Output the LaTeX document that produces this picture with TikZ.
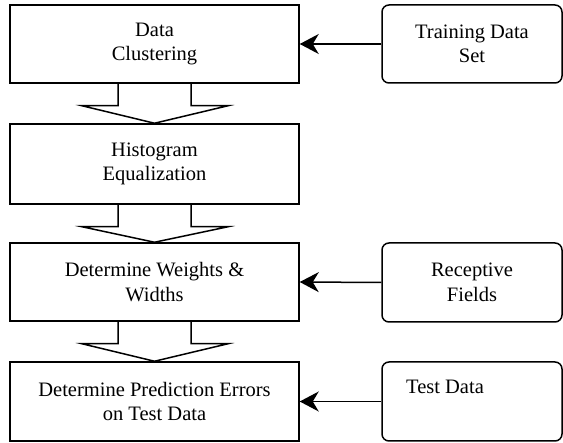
\documentclass[tikz,border=0pt]{standalone}
\usepackage{fontspec}
\setmainfont{Liberation Serif}
\usetikzlibrary{arrows.meta,calc}
\begin{document}
\begin{tikzpicture}[x=1pt,y=-1pt,
  lw/.style={line width=1.5pt},
  txt/.style={font=\fontsize{20.5}{24.5}\selectfont},
  stepbox/.style={draw,lw,rectangle,minimum width=289pt,inner sep=0pt,align=center,txt},
  srcbox/.style={draw,lw,rectangle,rounded corners=7pt,minimum width=180pt,inner sep=0pt,align=center,txt},
  blockarrow/.style={draw,lw,line join=miter},
  feed/.style={lw,-{Stealth[length=19pt,width=20pt,inset=6pt]}}
]
\useasboundingbox (0,0) rectangle (563,443);
\node[stepbox,minimum height=78pt] (b1) at (154.5,44) {Data\\Clustering};
\node[stepbox,minimum height=80pt] (b2) at (154.5,164) {Histogram\\Equalization};
\node[stepbox,minimum height=78pt] (b3) at (154.5,282) {Determine Weights \&\\Widths};
\node[stepbox,minimum height=79pt] (b4) at (154.5,401.5) {Determine Prediction Errors\\on Test Data};

\node[srcbox,minimum height=78pt] (r1) at (472,44) {Training Data\\Set};
\node[srcbox,minimum height=79pt] (r2) at (472,282.5) {Receptive\\Fields};
\node[srcbox,minimum height=79pt] (r3) at (472,401.5) {};
\node[anchor=base west,inner sep=0pt,txt] (r3t) at (406,394) {Test Data};

\foreach \a/\b in {b1/b2,b2/b3,b3/b4}{
  \draw[blockarrow] ($(\a.south)+(-36.5,0)$) -- ++(0,22) -- ++(-36,0)
     -- ($(\b.north)$) -- ($(\a.south)+(73.5,22)$) -- ++(-37,0) -- ($(\a.south)+(36.5,0)$);
}
\draw[feed] (r1.west) -- (b1.east);
\draw[feed] (r2.west) -- (b3.east);
\draw[feed] (r3.west) -- (b4.east);
\end{tikzpicture}
\end{document}
